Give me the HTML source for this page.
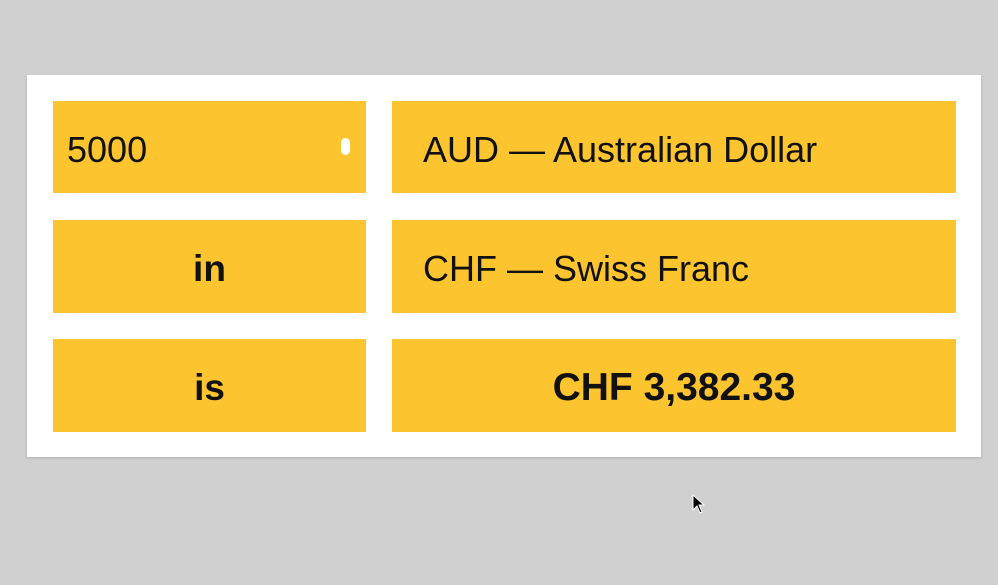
<!DOCTYPE html>
<html><head><meta charset="utf-8"><style>
body{margin:0;width:998px;height:585px;background:#d0d0d0;position:relative;overflow:hidden;font-family:"Liberation Sans",sans-serif;}
#card{position:absolute;left:27px;top:75px;width:954px;height:382px;background:#fff;box-shadow:0 1px 3px rgba(0,0,0,0.15);}
.b{position:absolute;background:#fcc52f;color:#111;font-size:36px;line-height:98px;white-space:nowrap;}
.c{text-align:center;font-weight:bold;font-size:37px;}
</style></head><body>
<div id="card"></div>
<div class="b" style="left:53px;top:101px;width:313px;height:92px;padding-left:14px;box-sizing:border-box;">5000
<span style="position:absolute;left:288px;top:37px;width:9px;height:17px;background:#fff;border-radius:5px;"></span></div>
<div class="b" style="left:392px;top:101px;width:564px;height:92px;padding-left:31px;box-sizing:border-box;">AUD — Australian Dollar</div>
<div class="b c" style="left:53px;top:220px;width:313px;height:93px;">in</div>
<div class="b" style="left:392px;top:220px;width:564px;height:93px;padding-left:31px;box-sizing:border-box;">CHF — Swiss Franc</div>
<div class="b c" style="left:53px;top:339px;width:313px;height:93px;">is</div>
<div class="b c" style="left:392px;top:339px;width:564px;height:93px;font-size:39px;">CHF 3,382.33</div>
<svg style="position:absolute;left:692px;top:494px" width="14" height="22" viewBox="0 0 14 22"><path d="M1 1 L1 16 L5 12 L8 19 L10 18 L7 11 L12 11 Z" fill="#000" stroke="#fff" stroke-width="1"/></svg>
</body></html>
